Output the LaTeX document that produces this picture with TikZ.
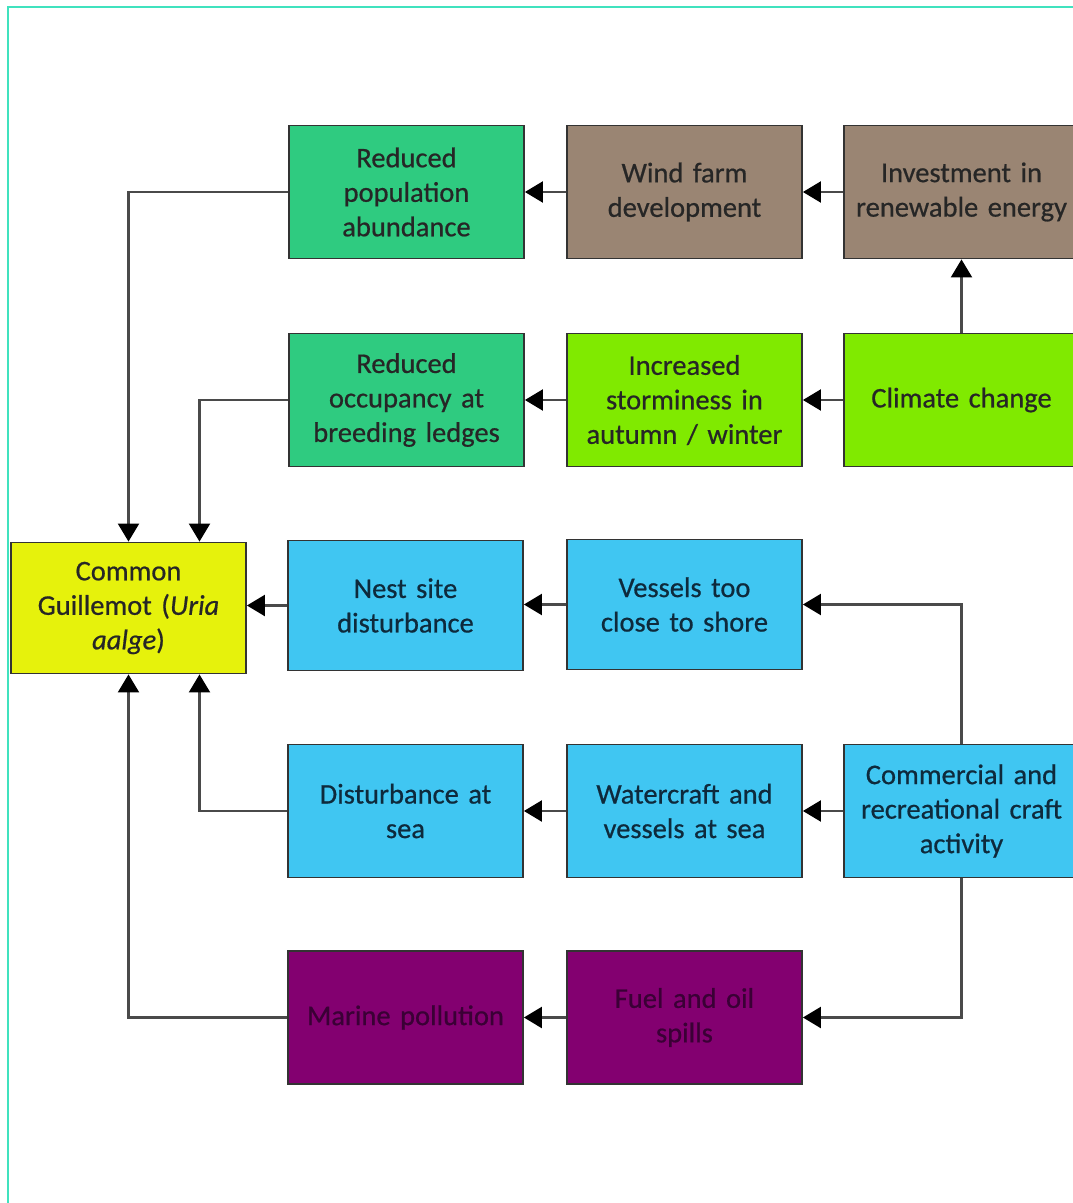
\documentclass[tikz,border=0pt]{standalone}
\usepackage{fontspec}
\setmainfont{Carlito}[FakeBold=0.6,
  ItalicFont=Carlito Italic, ItalicFeatures={FakeBold=0.6}]
\usetikzlibrary{arrows.meta}
\definecolor{framecol}{HTML}{40E2BE}
\definecolor{boxline}{HTML}{333333}
\definecolor{linkgray}{HTML}{4A4A4A}
\definecolor{effectgreen}{HTML}{2FCB80}
\definecolor{windbrown}{HTML}{9A8573}
\definecolor{climlime}{HTML}{80EA00}
\definecolor{birdyellow}{HTML}{E6F20C}
\definecolor{craftblue}{HTML}{40C6F2}
\definecolor{spillpurple}{HTML}{830070}
\definecolor{spilltext}{HTML}{3A0035}
\definecolor{bluetext}{HTML}{0E2A3C}
\begin{document}
\begin{tikzpicture}[x=1pt,y=-1pt,
  box/.style={draw=boxline,line width=1.8pt,minimum width=235pt,minimum height=133pt,
    text width=232pt,align=center,inner sep=0pt,
    font=\fontsize{28.5}{34.5}\selectfont,text=black!85},
  effect/.style={box,fill=effectgreen},
  wind/.style={box,fill=windbrown},
  climate/.style={box,fill=climlime},
  bird/.style={box,fill=birdyellow,minimum height=131pt},
  craft/.style={box,fill=craftblue,text=bluetext},
  spill/.style={box,fill=spillpurple,text=spilltext},
  link/.style={draw=linkgray,line width=2.2pt,
    -{Triangle[length=18pt,width=21pt,color=black]}},
  frame/.style={draw=framecol,line width=2.2pt}]
\useasboundingbox (0,0) rectangle (1073,1203);
\clip (0,0) rectangle (1073,1203);
\draw[frame] (8,7) rectangle (1100,1230);

% top row: wind energy chain
\node[effect] (redpop) at (406.5,192) {Reduced\\population\\abundance};
\node[wind] (windfarm) at (684.5,192) {Wind farm\\development};
\node[wind] (invest) at (961.5,192) {Investment in\\renewable energy};

% second row: climate chain
\node[effect] (occup) at (406.5,400) {Reduced\\occupancy at\\breeding ledges};
\node[climate] (storm) at (684.5,400) {Increased\\storminess in\\autumn / winter};
\node[climate] (climate) at (961.5,400) {Climate change};

% species
\node[bird] (guill) at (128.5,608) {Common\\Guillemot (\textit{Uria}\\\textit{aalge})};

% craft chains
\node[craft,minimum height=130pt] (nest) at (405.5,605.5) {Nest site\\disturbance};
\node[craft,minimum height=130pt] (vessels) at (684.5,604.5) {Vessels too\\close to shore};
\node[craft] (dsea) at (405.5,811) {Disturbance at\\sea};
\node[craft] (water) at (684.5,811) {Watercraft and\\vessels at sea};
\node[craft] (craftact) at (961.5,811) {Commercial and\\recreational craft\\activity};

% pollution chain
\node[spill] (pollution) at (405.5,1017.5) {Marine pollution};
\node[spill] (fuel) at (684.5,1017.5) {Fuel and oil\\spills};

% connectors
\draw[link] (windfarm.west) -- (redpop.east);
\draw[link] (invest.west) -- (windfarm.east);
\draw[link] (climate.north) -- (invest.south);
\draw[link] (climate.west) -- (storm.east);
\draw[link] (storm.west) -- (occup.east);
\draw[link] (redpop.west) -| (guill.north);
\draw[link] (occup.west) -| ([xshift=71pt]guill.north);
\draw[link] (vessels.west) -- (vessels.west -| nest.east);
\draw[link] (nest.west) -- (nest.west -| guill.east);
\draw[link] (craftact.north) |- (vessels.east);
\draw[link] (craftact.west) -- (water.east);
\draw[link] (water.west) -- (dsea.east);
\draw[link] (dsea.west) -| ([xshift=71pt]guill.south);
\draw[link] (craftact.south) |- (fuel.east);
\draw[link] (fuel.west) -- (pollution.east);
\draw[link] (pollution.west) -| (guill.south);
\end{tikzpicture}
\end{document}
